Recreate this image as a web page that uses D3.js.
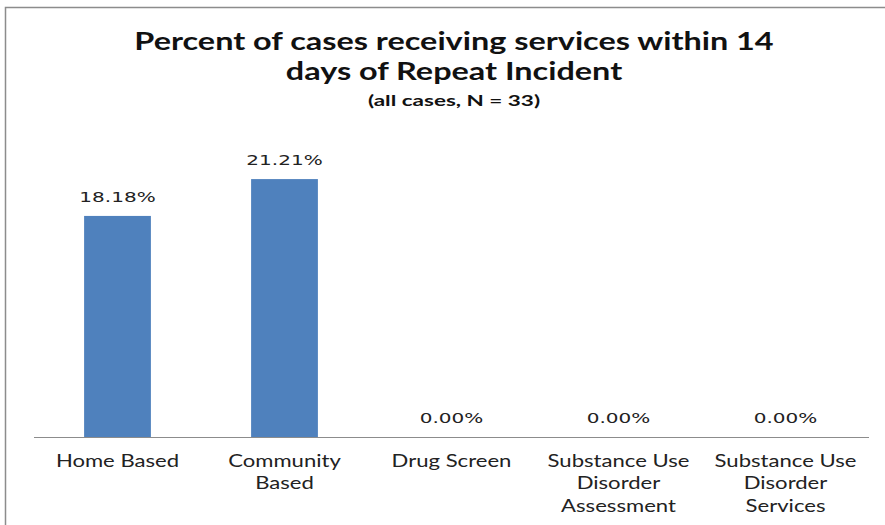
<!DOCTYPE html>
<html>
<head>
<meta charset="utf-8">
<script src="https://cdn.jsdelivr.net/npm/d3@7"></script>
<style>
  body { margin: 0; background: #fff; }
  svg { display: block; }
</style>
</head>
<body>
<div id="chart"></div>
<script>
// data
var categories = ["Home Based", "Community Based", "Drug Screen",
                  "Substance Use Disorder Assessment", "Substance Use Disorder Services"];
var labelLines = [["Home Based"], ["Community", "Based"], ["Drug Screen"],
                  ["Substance Use", "Disorder", "Assessment"], ["Substance Use", "Disorder", "Services"]];
var percents = [18.18, 21.21, 0.00, 0.00, 0.00];

var width = 885,
    height = 525;

var plotLeft = 34, plotRight = 869, plotTop = 133, plotBottom = 437;

var svg = d3.select("#chart").append("svg")
    .attr("width", width)
    .attr("height", height);

// chart frame (cut off at right and bottom)
svg.append("path")
    .attr("d", "M5.5,525 L5.5,7.5 L885,7.5")
    .attr("fill", "none")
    .attr("stroke", "#8c8c8c")
    .attr("stroke-width", 1.5);

var x = d3.scaleBand()
    .domain(categories)
    .range([plotLeft, plotRight])
    .paddingInner(0.6)
    .paddingOuter(0.3);

var y = d3.scaleLinear()
    .domain([0, 25])
    .range([plotBottom, plotTop]);

// the original picture is wider than tall, so its text looks stretched sideways
function place(cx, cy, sx) {
  return "translate(" + cx + "," + cy + ") scale(" + sx + ",1)";
}

// bars
svg.selectAll("rect.bar")
    .data(percents)
    .enter()
    .append("rect")
    .attr("class", "bar")
    .attr("x", function(d, i) { return x(categories[i]); })
    .attr("y", function(d) { return y(d); })
    .attr("width", x.bandwidth())
    .attr("height", function(d) { return y(0) - y(d); })
    .attr("fill", "#4f81bd");

// value labels
svg.selectAll("text.val")
    .data(percents)
    .enter()
    .append("text")
    .attr("class", "val")
    .attr("transform", function(d, i) {
      return place(x(categories[i]) + x.bandwidth() / 2, y(d) - 14, 1.38);
    })
    .attr("text-anchor", "middle")
    .style("font-family", "'DejaVu Sans', Verdana, sans-serif")
    .style("font-size", "14.5px")
    .style("fill", "#222")
    .text(function(d) { return d.toFixed(2) + "%"; });

// x axis line
svg.append("line")
    .attr("x1", plotLeft).attr("x2", plotRight)
    .attr("y1", plotBottom + 0.5).attr("y2", plotBottom + 0.5)
    .attr("stroke", "#8c8c8c")
    .attr("stroke-width", 1);

// category labels
var cat = svg.selectAll("text.cat")
    .data(categories)
    .enter()
    .append("text")
    .attr("class", "cat")
    .attr("transform", function(d) { return place(x(d) + x.bandwidth() / 2, 0, 1.3); })
    .attr("text-anchor", "middle")
    .style("font-family", "Lato, 'Open Sans', sans-serif")
    .style("font-size", "17px")
    .style("fill", "#222");

cat.each(function(d, i) {
  var t = d3.select(this);
  labelLines[i].forEach(function(line, j) {
    t.append("tspan")
      .attr("x", 0)
      .attr("y", 467 + j * 22.5)
      .text(line);
  });
});

// titles
var titleFont = "Lato, sans-serif";
svg.append("text")
    .attr("transform", place(454, 50, 1.35))
    .attr("text-anchor", "middle")
    .style("font-family", titleFont)
    .style("font-weight", "bold")
    .style("font-size", "24px")
    .style("fill", "#111")
    .text("Percent of cases receiving services within 14");

svg.append("text")
    .attr("transform", place(454, 80, 1.35))
    .attr("text-anchor", "middle")
    .style("font-family", titleFont)
    .style("font-weight", "bold")
    .style("font-size", "24px")
    .style("fill", "#111")
    .text("days of Repeat Incident");

svg.append("text")
    .attr("transform", place(454, 106, 1.5))
    .attr("text-anchor", "middle")
    .style("font-family", titleFont)
    .style("font-weight", "bold")
    .style("font-size", "15px")
    .style("fill", "#111")
    .text("(all cases, N = 33)");
</script>
</body>
</html>
